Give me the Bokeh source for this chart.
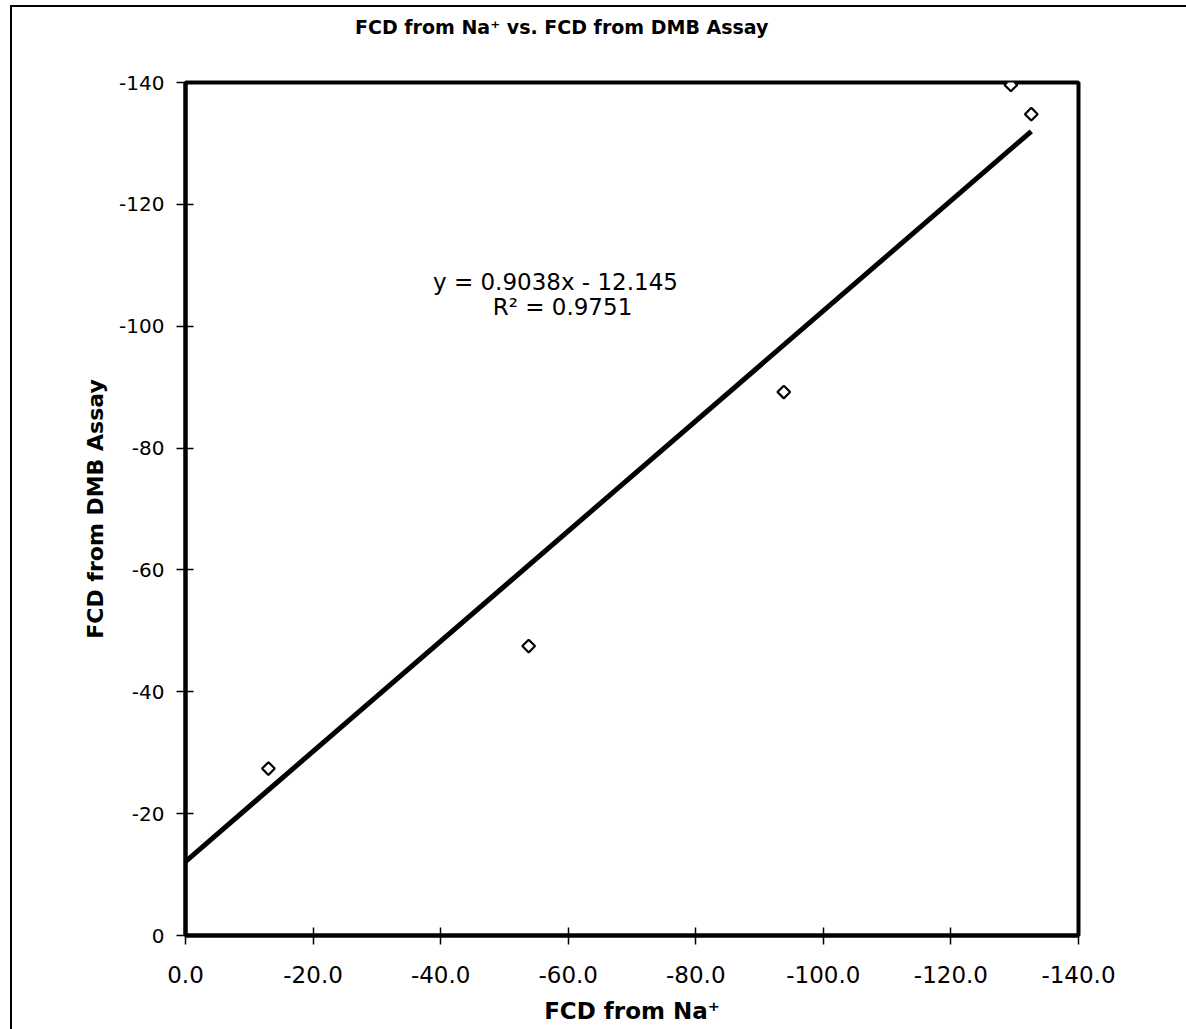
import math
from bokeh.plotting import figure
from bokeh.layouts import column
from bokeh.models import Range1d, FixedTicker, NumeralTickFormatter, Label, ColumnDataSource, Div
from bokeh.embed import file_html
from bokeh.resources import INLINE

# ---- data ----
fcd_na = [-13.0, -53.8, -93.8, -129.4, -132.6]
fcd_dmb = [-27.4, -47.5, -89.2, -139.6, -134.8]
slope = 0.9038
intercept = -12.145
r2 = 0.9751
x_ticks = [0, -20, -40, -60, -80, -100, -120, -140]
y_ticks = [0, -20, -40, -60, -80, -100, -120, -140]
title_text = "FCD from Na\u207a vs. FCD from DMB Assay"

FONT = "DejaVu Sans"
W = 1174
TITLE_H = 40

title_div = Div(text=title_text, width=W, height=TITLE_H, margin=0,
                styles={"font-family": FONT, "font-size": "19px", "font-weight": "bold",
                        "color": "black", "line-height": f"{TITLE_H}px",
                        "text-indent": "343px", "white-space": "nowrap",
                        "background-color": "white"})

p = figure(width=W, height=1022 - TITLE_H, output_backend="svg", toolbar_location=None,
           x_range=Range1d(0, -140), y_range=Range1d(0, -140),
           min_border_left=173, min_border_right=108, min_border_top=35, min_border_bottom=94,
           margin=0)

p.grid.visible = False
p.outline_line_color = "black"
p.outline_line_width = 4
p.outline_line_alpha = 1.0
p.background_fill_color = "white"
p.border_fill_color = "white"

for ax in (p.xaxis[0], p.yaxis[0]):
    ax.axis_line_color = "black"
    ax.axis_line_width = 4
    ax.major_tick_line_color = "black"
    ax.major_tick_line_width = 1.5
    ax.major_tick_in = 8
    ax.major_tick_out = 9
    ax.minor_tick_line_color = None
    ax.major_label_text_font = FONT
    ax.major_label_text_color = "black"
    ax.axis_label_text_font = FONT
    ax.axis_label_text_font_style = "bold"
    ax.axis_label_text_color = "black"

p.xaxis.major_label_text_font_size = "23px"
p.yaxis.major_label_text_font_size = "20px"
p.xaxis.axis_label_text_font_size = "23px"
p.yaxis.axis_label_text_font_size = "22px"

p.xaxis.ticker = FixedTicker(ticks=x_ticks)
p.yaxis.ticker = FixedTicker(ticks=y_ticks)
p.xaxis.formatter = NumeralTickFormatter(format="0.0")
p.yaxis.formatter = NumeralTickFormatter(format="0")
p.xaxis.major_label_standoff = 21
p.yaxis.major_label_standoff = 12
p.xaxis.axis_label = "FCD from Na\u207a"
p.yaxis.axis_label = "FCD from DMB Assay"
p.xaxis.axis_label_standoff = 12
p.yaxis.axis_label_standoff = 8

# trendline
x_end = min(fcd_na)
tx = [0, x_end]
ty = [intercept + slope * v for v in tx]
p.line(tx, ty, line_color="black", line_width=5)

src = ColumnDataSource(dict(x=fcd_na, y=fcd_dmb))
p.scatter("x", "y", source=src, marker="square", angle=math.pi / 4, size=9,
          fill_color="white", line_color="black", line_width=2.2)

p.add_layout(Label(x=-58.0, y=-107.2, text=f"y = {slope}x - {abs(intercept)}",
                   text_font=FONT, text_font_size="23px", text_align="center",
                   text_baseline="middle", text_color="black"))
p.add_layout(Label(x=-59.1, y=-103.1, text=f"R\u00b2 = {r2}",
                   text_font=FONT, text_font_size="23px", text_align="center",
                   text_baseline="middle", text_color="black"))

layout = column(title_div, p, spacing=0, margin=(5, 0, 0, 10),
                styles={"border-left": "2px solid black", "border-top": "2px solid black"})

open("out.html", "w").write(file_html(layout, INLINE))
